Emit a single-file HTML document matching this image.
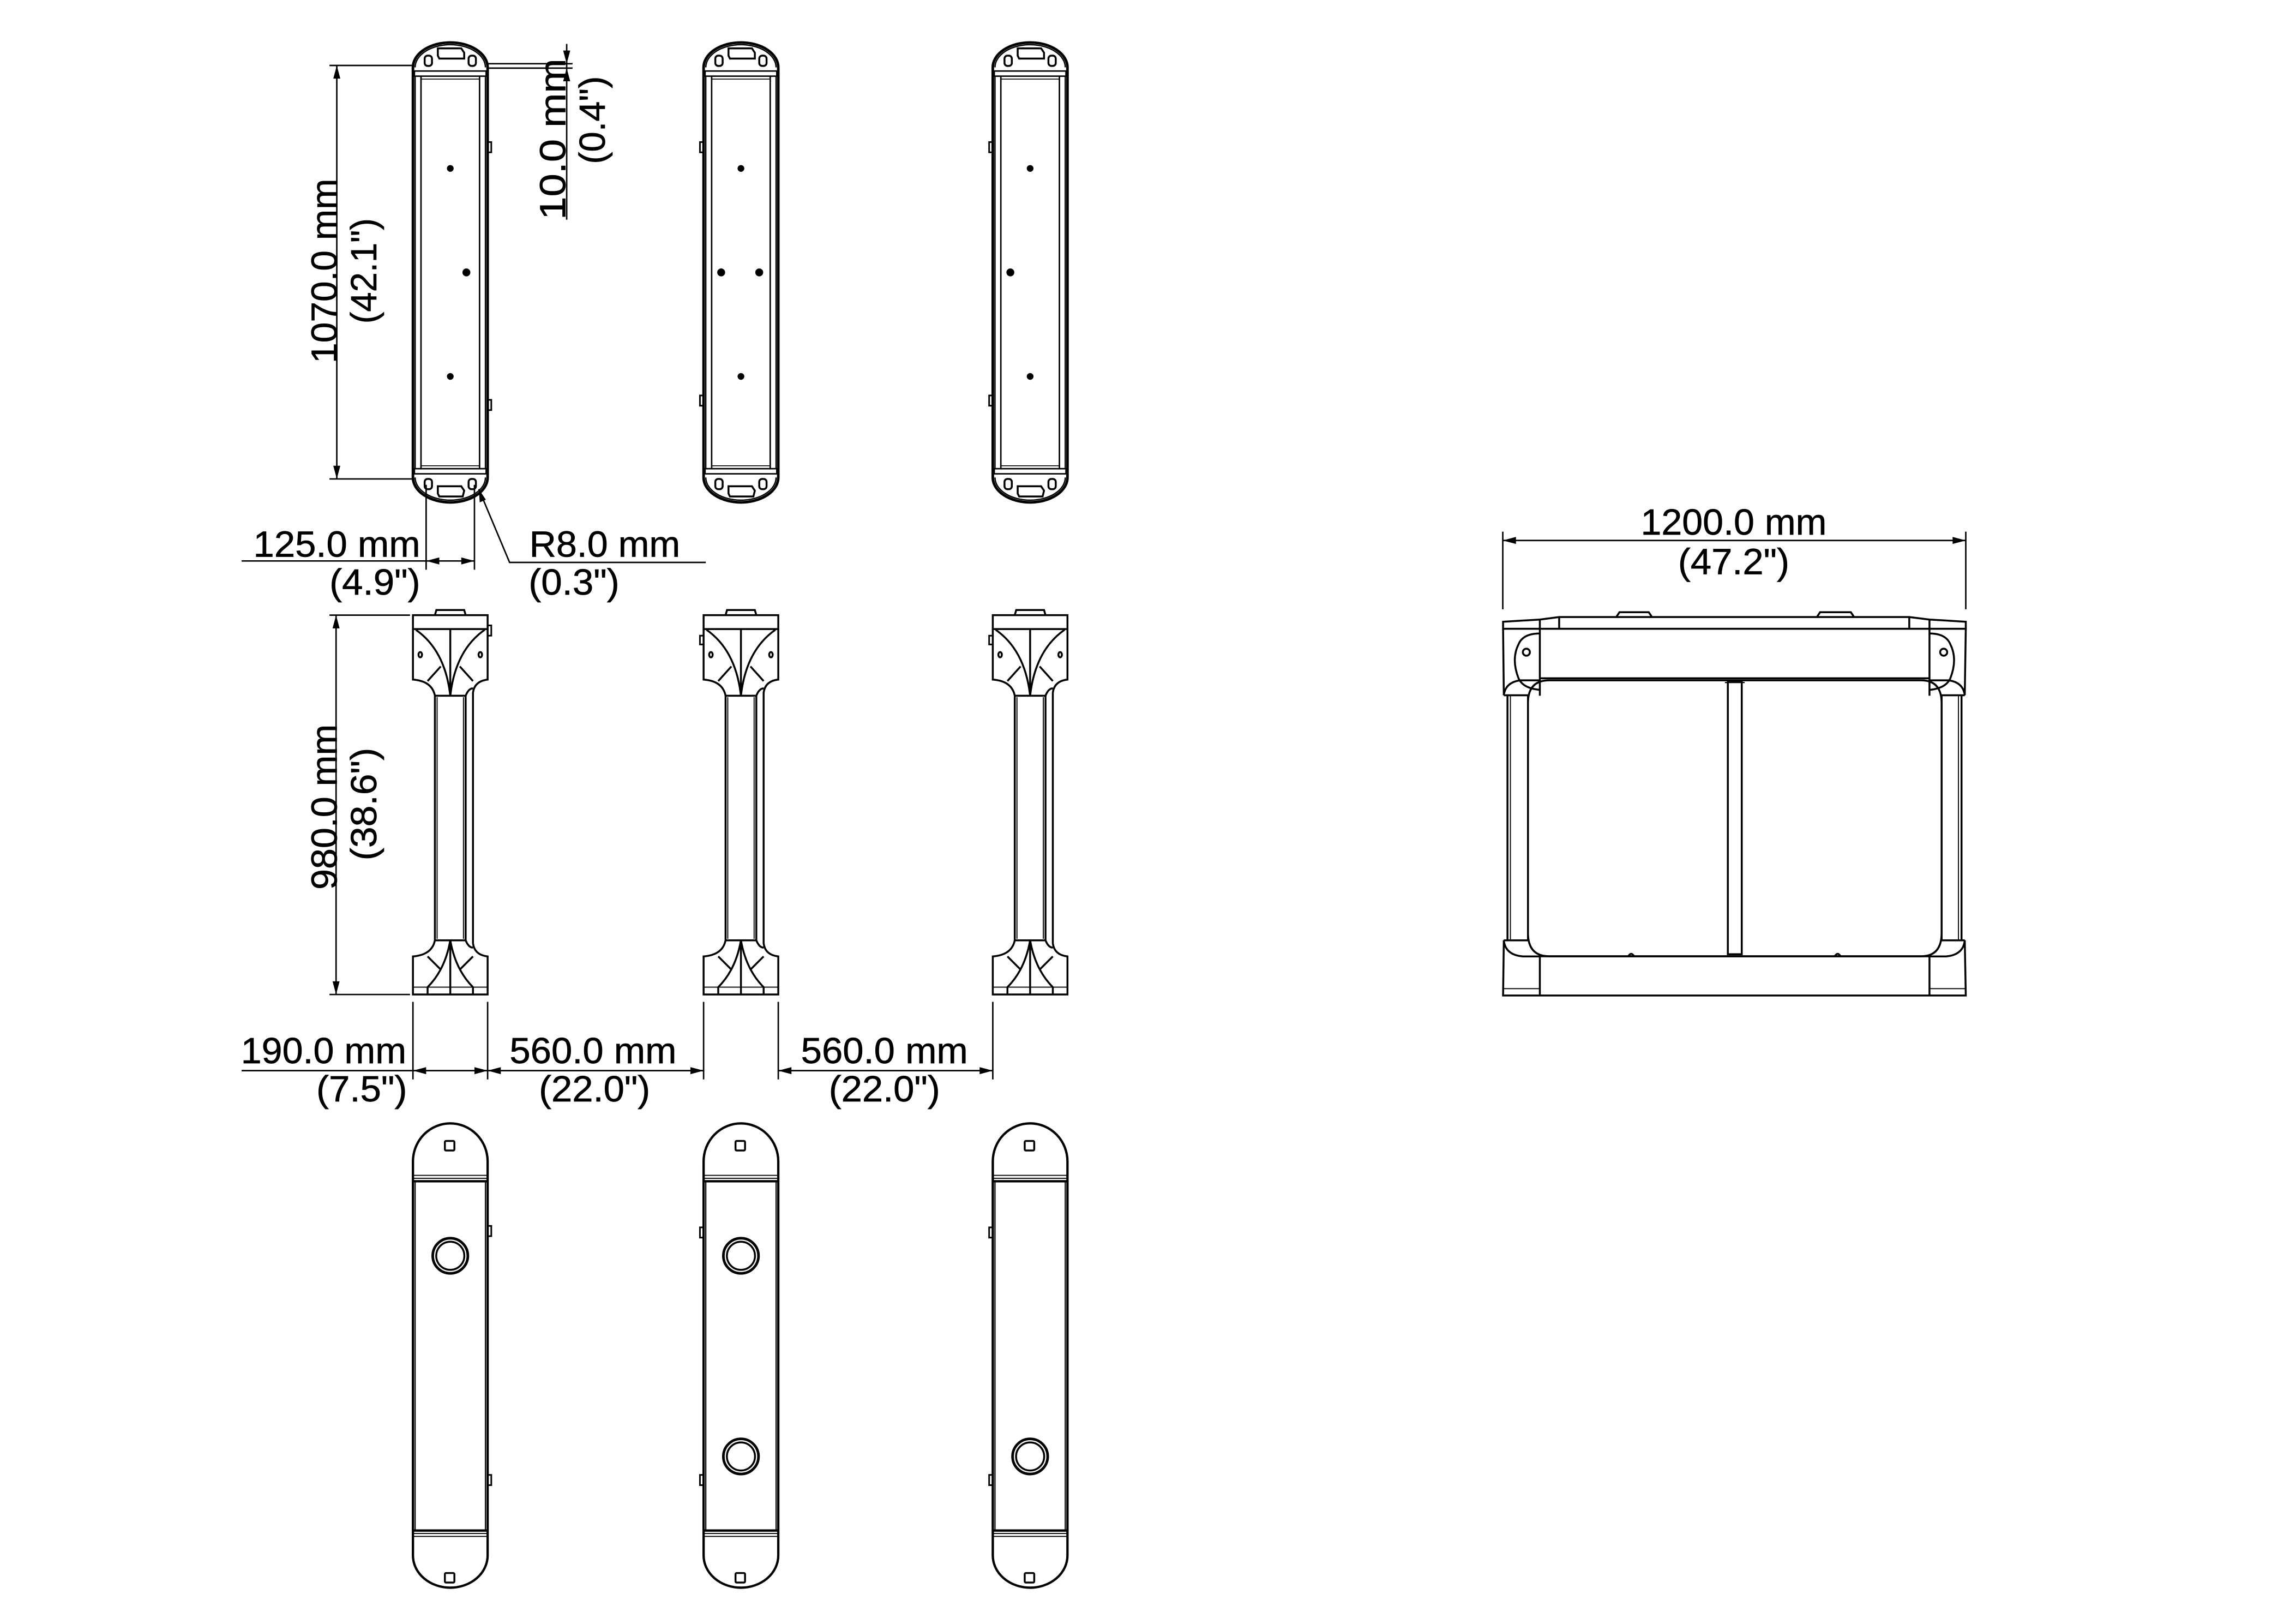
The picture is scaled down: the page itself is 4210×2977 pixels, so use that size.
<!DOCTYPE html>
<html><head><meta charset="utf-8"><style>
html,body{margin:0;padding:0;background:#fff}
svg{display:block}
text{font-family:"Liberation Sans",sans-serif;font-size:25px;fill:#000;stroke:#000;stroke-width:0.25}
</style></head><body>
<svg width="4210" height="2977" viewBox="0 0 1568 1108.8" xmlns="http://www.w3.org/2000/svg">
<defs>
<g id="topv" fill="none" stroke="#000" stroke-width="1.3">
  <path d="M0,46 L0,326 A25.5,17 0 0 0 51,326 L51,46 A25.5,17 0 0 0 0,46 Z" stroke-width="1.8"/>
  <path d="M1.5,46 A24,15.5 0 0 1 49.5,46" stroke-width="0.9"/>
  <path d="M1.5,326 A24,15.5 0 0 0 49.5,326" stroke-width="0.9"/>
  <rect x="1" y="48.5" width="49" height="3.5" stroke-width="1"/>
  <rect x="1" y="320" width="49" height="3.5" stroke-width="1"/>
  <line x1="1.5" y1="52" x2="1.5" y2="320" stroke-width="0.9"/>
  <line x1="5.5" y1="52" x2="5.5" y2="320" stroke-width="1"/>
  <line x1="45.5" y1="52" x2="45.5" y2="320" stroke-width="1"/>
  <line x1="49.5" y1="52" x2="49.5" y2="320" stroke-width="0.9"/>
  <line x1="5.5" y1="54" x2="45.5" y2="54" stroke-width="0.6"/>
  <line x1="5.5" y1="318" x2="45.5" y2="318" stroke-width="0.6"/>
  <rect x="8" y="38" width="5" height="7" rx="2"/>
  <rect x="38" y="38" width="5" height="7" rx="2"/>
  <path d="M17,33 L33,33 L35,36 L35,40 L18,40 L17,38 Z"/>
  <rect x="8" y="327" width="5" height="7" rx="2"/>
  <rect x="38" y="327" width="5" height="7" rx="2"/>
  <path d="M17,332 L33,332 L35,335 L34,339 L18,339 L17,337 Z"/>
</g>
<g id="sidev" fill="none" stroke="#000" stroke-width="1.3">
  <path d="M15,420 L16,416.5 L35,416.5 L36,420" />
  <rect x="0" y="420" width="51" height="9.5"/>
  <path d="M0,429.5 L0,464 Q13,465 15,475 L15,642 Q13,652 0,653 L0,679 L51,679 L51,653 Q42,652 41,644 L41,473 Q42,465 51,464 L51,429.5"/>
  <line x1="36" y1="475" x2="36" y2="642"/>
  <line x1="16.5" y1="476" x2="16.5" y2="641" stroke-width="0.7"/>
  <line x1="34.5" y1="476" x2="34.5" y2="641" stroke-width="0.7"/>
  <line x1="15" y1="475" x2="36" y2="475"/>
  <line x1="15" y1="642" x2="36" y2="642"/>
  <path d="M36,475 Q38,470 41,470"/>
  <path d="M36,642 Q38,647 41,647"/>
  <line x1="25.5" y1="429.5" x2="25.5" y2="475"/>
  <path d="M2,430 Q22,444 25.5,475"/>
  <path d="M49,430 Q29,444 25.5,475"/>
  <line x1="10" y1="465" x2="19" y2="455"/>
  <line x1="41" y1="465" x2="32" y2="455"/>
  <ellipse cx="5" cy="447" rx="1.2" ry="1.8"/>
  <ellipse cx="46" cy="447" rx="1.2" ry="1.8"/>
  <line x1="25.5" y1="642" x2="25.5" y2="679"/>
  <path d="M25.5,642 Q22,662 10,674"/>
  <path d="M25.5,642 Q29,662 41,674"/>
  <line x1="10" y1="653" x2="19" y2="662"/>
  <line x1="41" y1="653" x2="32" y2="662"/>
  <line x1="0" y1="674" x2="51" y2="674" stroke-width="0.7"/>
  <line x1="10" y1="674" x2="10" y2="679"/>
  <line x1="41" y1="674" x2="41" y2="679"/>
</g>
<g id="botv" fill="none" stroke="#000" stroke-width="1.3">
  <path d="M0,793 L0,1062 A25.5,22 0 0 0 51,1062 L51,793 A25.5,26 0 0 0 0,793 Z" stroke-width="1.6"/>
  <line x1="0" y1="802.5" x2="51" y2="802.5" stroke-width="0.7"/>
  <line x1="0" y1="804.5" x2="51" y2="804.5" stroke-width="0.7"/>
  <line x1="0" y1="806.5" x2="51" y2="806.5" stroke-width="1.6"/>
  <line x1="0" y1="1045" x2="51" y2="1045" stroke-width="1.6"/>
  <line x1="0" y1="1047" x2="51" y2="1047" stroke-width="0.7"/>
  <line x1="0" y1="1049" x2="51" y2="1049" stroke-width="0.7"/>
  <line x1="1.5" y1="806.5" x2="1.5" y2="1045" stroke-width="0.8"/>
  <line x1="49.5" y1="806.5" x2="49.5" y2="1045" stroke-width="0.8"/>
  <rect x="21.8" y="779" width="6.5" height="6.5" rx="0.8"/>
  <rect x="21.8" y="1074" width="6.5" height="6.5" rx="0.8"/>
</g>
</defs>

<use href="#topv" x="282" y="0"/>
<use href="#topv" x="480.5" y="0"/>
<use href="#topv" x="678" y="0"/>
<g fill="#000" stroke="#000" stroke-width="1">
  <circle cx="307.5" cy="115" r="1.8"/><circle cx="318.5" cy="186" r="2.2"/><circle cx="307.5" cy="257" r="1.8"/>
  <circle cx="506" cy="115" r="1.8"/><circle cx="492.5" cy="186" r="2.2"/><circle cx="518.5" cy="186" r="2.2"/><circle cx="506" cy="257" r="1.8"/>
  <circle cx="703.5" cy="115" r="1.8"/><circle cx="690" cy="186" r="2.2"/><circle cx="703.5" cy="257" r="1.8"/>
</g>
<g fill="none" stroke="#000" stroke-width="1.1">
  <rect x="333" y="97" width="2.5" height="7"/><rect x="333" y="273" width="2.5" height="7"/>
  <rect x="478" y="97" width="2.5" height="7"/><rect x="478" y="270" width="2.5" height="7"/>
  <rect x="675.5" y="97" width="2.5" height="7"/><rect x="675.5" y="270" width="2.5" height="7"/>
</g>

<use href="#sidev" x="282" y="0"/>
<use href="#sidev" x="480.5" y="0"/>
<use href="#sidev" x="678" y="0"/>
<g fill="none" stroke="#000" stroke-width="1.1"><rect x="333" y="427" width="2.5" height="7"/><rect x="478" y="434" width="2.5" height="6"/><rect x="675.5" y="434" width="2.5" height="6"/></g>

<use href="#botv" x="282" y="0"/>
<use href="#botv" x="480.5" y="0"/>
<use href="#botv" x="678" y="0"/>
<g fill="none" stroke="#000">
  <circle cx="307.5" cy="857.4" r="12" stroke-width="1.8"/><circle cx="307.5" cy="857.4" r="9.6" stroke-width="1.3"/>
  <circle cx="506" cy="857.4" r="12" stroke-width="1.8"/><circle cx="506" cy="857.4" r="9.6" stroke-width="1.3"/>
  <circle cx="506" cy="994.4" r="12" stroke-width="1.8"/><circle cx="506" cy="994.4" r="9.6" stroke-width="1.3"/>
  <circle cx="703.5" cy="994.4" r="12" stroke-width="1.8"/><circle cx="703.5" cy="994.4" r="9.6" stroke-width="1.3"/>
  <rect x="333" y="837" width="2.5" height="7" stroke-width="1.1"/><rect x="333" y="1007" width="2.5" height="7" stroke-width="1.1"/>
  <rect x="478" y="838" width="2.5" height="7" stroke-width="1.1"/><rect x="478" y="1007" width="2.5" height="7" stroke-width="1.1"/>
  <rect x="675.5" y="838" width="2.5" height="7" stroke-width="1.1"/><rect x="675.5" y="1007" width="2.5" height="7" stroke-width="1.1"/>
</g>

<g stroke="#000" stroke-width="1" fill="none">
  <line x1="225" y1="44.7" x2="283" y2="44.7"/><line x1="225" y1="327" x2="283" y2="327"/>
  <line x1="230" y1="44.7" x2="230" y2="327"/>
  <line x1="333" y1="43.5" x2="391" y2="43.5"/><line x1="333" y1="46.5" x2="391" y2="46.5"/>
  <line x1="387" y1="30" x2="387" y2="150"/>
  <line x1="291" y1="331" x2="291" y2="389"/><line x1="324" y1="331" x2="324" y2="389"/>
  <line x1="165" y1="383" x2="324" y2="383"/>
  <polyline points="327,334 348,384 482,384"/>
  <line x1="225" y1="420" x2="280" y2="420"/><line x1="225" y1="679" x2="280" y2="679"/>
  <line x1="229.5" y1="420" x2="229.5" y2="679"/>
  <line x1="282" y1="684" x2="282" y2="737"/><line x1="333" y1="684" x2="333" y2="737"/>
  <line x1="480.5" y1="684" x2="480.5" y2="737"/><line x1="531.5" y1="684" x2="531.5" y2="737"/>
  <line x1="678" y1="684" x2="678" y2="737"/>
  <line x1="165" y1="731" x2="480.5" y2="731"/>
  <line x1="531.5" y1="731" x2="678" y2="731"/>
  <line x1="1026.3" y1="363" x2="1026.3" y2="416"/><line x1="1342.5" y1="363" x2="1342.5" y2="416"/>
  <line x1="1026.3" y1="369" x2="1342.5" y2="369"/>
</g>
<g fill="#000" stroke="none">
  <polygon points="230,44.7 227.6,53.7 232.4,53.7"/><polygon points="230,327 227.6,318 232.4,318"/>
  <polygon points="387,43.5 384.6,34.5 389.4,34.5"/><polygon points="387,46.5 384.6,55.5 389.4,55.5"/>
  <polygon points="291,383 300,380.6 300,385.4"/><polygon points="324,383 315,380.6 315,385.4"/>
  <polygon points="327,334 327.6,343 331.8,341.2"/>
  <polygon points="229.5,420 227.1,429 231.9,429"/><polygon points="229.5,679 227.1,670 231.9,670"/>
  <polygon points="282,731 291,728.6 291,733.4"/><polygon points="333,731 324,728.6 324,733.4"/>
  <polygon points="333,731 342,728.6 342,733.4"/><polygon points="480.5,731 471.5,728.6 471.5,733.4"/>
  <polygon points="531.5,731 540.5,728.6 540.5,733.4"/><polygon points="678,731 669,728.6 669,733.4"/>
  <polygon points="1026.3,369 1035.3,366.6 1035.3,371.4"/><polygon points="1342.5,369 1333.5,366.6 1333.5,371.4"/>
</g>

<text transform="translate(230,185) rotate(-90)" text-anchor="middle" textLength="126" lengthAdjust="spacingAndGlyphs">1070.0 mm</text>
<text transform="translate(257,185) rotate(-90)" text-anchor="middle" textLength="72" lengthAdjust="spacingAndGlyphs">(42.1")</text>
<text transform="translate(386,95) rotate(-90)" text-anchor="middle" textLength="110" lengthAdjust="spacingAndGlyphs">10.0 mm</text>
<text transform="translate(413,82) rotate(-90)" text-anchor="middle" textLength="60" lengthAdjust="spacingAndGlyphs">(0.4")</text>
<text transform="translate(230,551) rotate(-90)" text-anchor="middle" textLength="113" lengthAdjust="spacingAndGlyphs">980.0 mm</text>
<text transform="translate(257,549) rotate(-90)" text-anchor="middle" textLength="77" lengthAdjust="spacingAndGlyphs">(38.6")</text>
<text x="230" y="380" text-anchor="middle" textLength="114" lengthAdjust="spacingAndGlyphs">125.0 mm</text>
<text x="256" y="406" text-anchor="middle" textLength="62" lengthAdjust="spacingAndGlyphs">(4.9")</text>
<text x="413" y="380" text-anchor="middle" textLength="103" lengthAdjust="spacingAndGlyphs">R8.0 mm</text>
<text x="392" y="406" text-anchor="middle" textLength="62" lengthAdjust="spacingAndGlyphs">(0.3")</text>
<text x="221" y="726" text-anchor="middle" textLength="113" lengthAdjust="spacingAndGlyphs">190.0 mm</text>
<text x="247" y="752" text-anchor="middle" textLength="62" lengthAdjust="spacingAndGlyphs">(7.5")</text>
<text x="405" y="726" text-anchor="middle" textLength="114" lengthAdjust="spacingAndGlyphs">560.0 mm</text>
<text x="406" y="752" text-anchor="middle" textLength="76" lengthAdjust="spacingAndGlyphs">(22.0")</text>
<text x="604" y="726" text-anchor="middle" textLength="114" lengthAdjust="spacingAndGlyphs">560.0 mm</text>
<text x="604" y="752" text-anchor="middle" textLength="76" lengthAdjust="spacingAndGlyphs">(22.0")</text>
<text x="1184" y="365" text-anchor="middle" textLength="127" lengthAdjust="spacingAndGlyphs">1200.0 mm</text>
<text x="1184" y="392" text-anchor="middle" textLength="76" lengthAdjust="spacingAndGlyphs">(47.2")</text>

<g fill="none" stroke="#000" stroke-width="1.3">
  <path d="M1104,421 L1106,418 L1126,418 L1128,421"/>
  <path d="M1241,421 L1243,418 L1264,418 L1266,421"/>
  <path d="M1026.5,424.5 L1051.6,423 L1064.8,421.3 L1303.9,421.3 L1317.7,423 L1342.5,424.5 L1342.5,429.3 L1026.5,429.3 Z"/>
  <line x1="1051.6" y1="423" x2="1051.6" y2="475"/>
  <line x1="1064.8" y1="421.3" x2="1064.8" y2="429.3"/>
  <line x1="1303.9" y1="421.3" x2="1303.9" y2="429.3"/>
  <line x1="1317.7" y1="423" x2="1317.7" y2="475"/>
  <line x1="1051.6" y1="463.1" x2="1317.7" y2="463.1"/>
  <path d="M1026.5,429.3 L1027,474.7"/>
  <path d="M1342.5,429.3 L1341.8,474.7"/>
  <path d="M1051.6,432.5 Q1040,432.5 1037,440 Q1032,450 1037,463 Q1040,470 1051.6,471"/>
  <path d="M1317.7,432.5 Q1329,432.5 1332,440 Q1337,450 1332,463 Q1329,470 1317.7,471"/>
  <circle cx="1042.4" cy="445.3" r="2.4"/><circle cx="1327.4" cy="445.3" r="2.4"/>
  <path d="M1027,474.7 Q1028,466 1038,464.5 L1051.6,464.5"/>
  <path d="M1341.8,474.7 Q1340.8,466 1331,464.5 L1317.7,464.5"/>
  <line x1="1027" y1="474.7" x2="1043.5" y2="474.7"/>
  <line x1="1326" y1="474.7" x2="1341.8" y2="474.7"/>
  <line x1="1029.5" y1="474.7" x2="1029.5" y2="642"/>
  <line x1="1031.5" y1="474.7" x2="1031.5" y2="642" stroke-width="0.7"/>
  <line x1="1043.5" y1="474.7" x2="1043.5" y2="642"/>
  <line x1="1326" y1="474.7" x2="1326" y2="642"/>
  <line x1="1337.5" y1="474.7" x2="1337.5" y2="642" stroke-width="0.7"/>
  <line x1="1339.6" y1="474.7" x2="1339.6" y2="642"/>
  <path d="M1043.5,480 Q1043.5,464.5 1058,464.5 L1312,464.5 Q1326,464.5 1326,480 L1326,637 Q1326,652.9 1312,652.9 L1058,652.9 Q1043.5,652.9 1043.5,637 Z"/>
  <rect x="1180" y="465" width="9.5" height="186.5"/>
  <line x1="1178" y1="466" x2="1191.5" y2="466" stroke-width="0.8"/>
  <line x1="1051.6" y1="652.9" x2="1317.7" y2="652.9"/>
  <path d="M1027,642 L1043.5,642"/><path d="M1326,642 L1341.8,642"/>
  <path d="M1027,642 Q1028,652 1040,653 L1051.6,653"/>
  <path d="M1341.8,642 Q1340.8,652 1329,653 L1317.7,653"/>
  <path d="M1027,642 L1026.5,679.7 L1342.5,679.7 L1341.8,642"/>
  <line x1="1051.6" y1="652.9" x2="1051.6" y2="679.7"/>
  <line x1="1317.7" y1="652.9" x2="1317.7" y2="679.7"/>
  <line x1="1027" y1="675" x2="1051.6" y2="675" stroke-width="0.7"/>
  <line x1="1317.7" y1="675" x2="1342" y2="675" stroke-width="0.7"/>
  <path d="M1112,653 Q1114,649.5 1116,653"/><path d="M1253,653 Q1255,649.5 1257,653"/>
</g>
</svg>
</body></html>
